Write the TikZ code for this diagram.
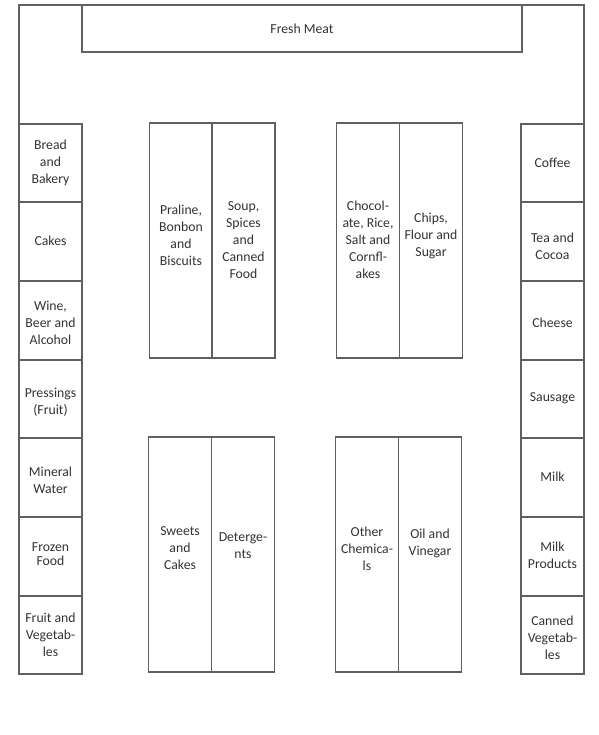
\documentclass[tikz,border=0pt]{standalone}
\usepackage{fontspec}
\setmainfont{Carlito}
\usetikzlibrary{fit}
\definecolor{linegray}{HTML}{606060}
\definecolor{textgray}{HTML}{333333}
\begin{document}
\begin{tikzpicture}[x=0.75pt,y=-0.75pt,
  shelf/.style={draw=linegray, line width=1pt, inner sep=0pt, align=center,
    text=textgray, font=\fontsize{10.3}{12.75}\selectfont},
  lbl/.style={inner sep=0pt, align=center, text=textgray,
    font=\fontsize{10.3}{12.75}\selectfont}]
\useasboundingbox (0,0) rectangle (599,735);
% outer wall
\draw[linegray, line width=1pt] (19,124) -- (19,5) -- (584,5) -- (584,124);
% fresh meat
\node[shelf, fit={(82,5) (522,52)}] (meat) {};
\node[lbl] (meatT) at (302,29) {Fresh Meat};
% left column
\node[shelf, fit={(19,124) (82,202)}] (bread) {};
\node[lbl] at (50.5,163) (breadT) {Bread\\and\\Bakery};
\node[shelf, fit={(19,202) (82,281)}] (cakes) {};
\node[lbl] at (50.5,241) (cakesT) {Cakes};
\node[shelf, fit={(19,281) (82,360)}] (wine) {};
\node[lbl] at (50.5,323) (wineT) {Wine,\\Beer and\\Alcohol};
\node[shelf, fit={(19,360) (82,438)}] (press) {};
\node[lbl] at (50.5,402) (pressT) {Pressings\\(Fruit)};
\node[shelf, fit={(19,438) (82,517)}] (mineral) {};
\node[lbl] at (50.5,480) (mineralT) {Mineral\\Water};
\node[shelf, fit={(19,517) (82,596)}] (frozen) {};
\node[lbl, font=\fontsize{10.3}{10.8}\selectfont] at (50.5,554) (frozenT) {Frozen\\Food};
\node[shelf, fit={(19,596) (82,674)}] (fruit) {};
\node[lbl] at (50.5,635) (fruitT) {Fruit and\\Vegetab-\\les};
% right column
\node[shelf, fit={(521,124) (584,202)}] (coffee) {};
\node[lbl] at (552.5,163) (coffeeT) {Coffee};
\node[shelf, fit={(521,202) (584,281)}] (tea) {};
\node[lbl] at (552.5,246) (teaT) {Tea and\\Cocoa};
\node[shelf, fit={(521,281) (584,360)}] (cheese) {};
\node[lbl] at (552.5,323) (cheeseT) {Cheese};
\node[shelf, fit={(521,360) (584,438)}] (sausage) {};
\node[lbl] at (552.5,398) (sausageT) {Sausage};
\node[shelf, fit={(521,438) (584,517)}] (milk) {};
\node[lbl] at (552.5,477) (milkT) {Milk};
\node[shelf, fit={(521,517) (584,596)}] (milkp) {};
\node[lbl] at (552.5,555) (milkpT) {Milk\\Products};
\node[shelf, fit={(521,596) (584,674)}] (cveg) {};
\node[lbl] at (552.5,638) (cvegT) {Canned\\Vegetab-\\les};
% top-left block
\node[shelf, fit={(149.5,123) (212,358)}] (praline) {};
\node[lbl] at (181,235) (pralineT) {Praline,\\Bonbon\\and\\Biscuits};
\node[shelf, fit={(212,123) (275,358)}] (soup) {};
\node[lbl] at (243.5,240) (soupT) {Soup,\\Spices\\and\\Canned\\Food};
% top-right block
\node[shelf, fit={(336.5,123) (399.5,358)}] (choc) {};
\node[lbl] at (368,240) (chocT) {Chocol-\\ate, Rice,\\Salt and\\Cornfl-\\akes};
\node[shelf, fit={(399.5,123) (462.5,358)}] (chips) {};
\node[lbl] at (431,236) (chipsT) {Chips,\\Flour and\\Sugar};
% bottom-left block
\node[shelf, fit={(148.5,437) (211.5,672)}] (sweets) {};
\node[lbl] at (180,548) (sweetsT) {Sweets\\and\\Cakes};
\node[shelf, fit={(211.5,437) (274.5,672)}] (deterg) {};
\node[lbl] at (243,546) (detergT) {Deterge-\\nts};
% bottom-right block
\node[shelf, fit={(335.5,437) (398.5,672)}] (chem) {};
\node[lbl] at (367,549) (chemT) {Other\\Chemica-\\ls};
\node[shelf, fit={(398.5,437) (461.5,672)}] (oil) {};
\node[lbl] at (430,543) (oilT) {Oil and\\Vinegar};
\end{tikzpicture}
\end{document}
